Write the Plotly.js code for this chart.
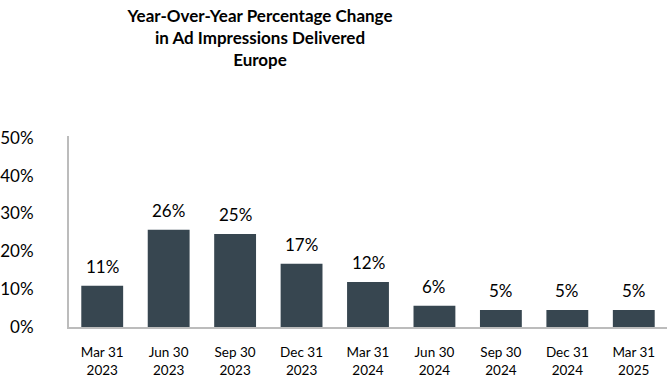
<!DOCTYPE html>
<html>
<head>
<meta charset="utf-8">
<script src="https://cdn.plot.ly/plotly-3.0.1.min.js"></script>
<style>html,body{margin:0;padding:0;background:#fff;}#chart{width:672px;height:384px;}</style>
</head>
<body>
<div id="chart"></div>
<script>
var categories = ["Mar 31<br>2023","Jun 30<br>2023","Sep 30<br>2023","Dec 31<br>2023","Mar 31<br>2024","Jun 30<br>2024","Sep 30<br>2024","Dec 31<br>2024","Mar 31<br>2025"];
var values = [10.9, 25.7, 24.6, 16.7, 11.9, 5.6, 4.5, 4.5, 4.5];
var labels = ["11%","26%","25%","17%","12%","6%","5%","5%","5%"];
var yTickVals = [0, 10, 20, 30, 40, 50];
var yTickText = ["0%","10%","20%","30%","40%","50%"];

var font = "Lato, 'Open Sans', sans-serif";

var annotations = categories.map(function(c, i){
  return {x: c, y: values[i], xref: 'x', yref: 'y', text: labels[i], showarrow: false,
          yanchor: 'middle', yshift: 19, font: {family: font, size: 17, color: '#000'}};
});

var data = [{
  type: 'bar', x: categories, y: values,
  marker: {color: '#374650'}, hoverinfo: 'none'
}];

var layout = {
  width: 672, height: 384,
  margin: {l: 69, r: 5, t: 136, b: 57},
  paper_bgcolor: '#fff', plot_bgcolor: '#fff',
  bargap: 0.37,
  showlegend: false,
  title: {text: "<b>Year-Over-Year Percentage Change<br>in Ad Impressions Delivered<br>Europe</b>",
          xref: 'container', x: 260/672, xanchor: 'center', yref: 'container', y: 1, yanchor: 'top',
          pad: {t: 22}, font: {family: font, size: 17, color: '#000'}},
  xaxis: {showline: true, linecolor: '#bcbcbc', linewidth: 2, showgrid: false, zeroline: false,
          ticks: '', ticklabelstandoff: 12, tickfont: {family: font, size: 13.5, color: '#000'}},
  yaxis: {range: [0, 50.5], showline: true, linecolor: '#bcbcbc', linewidth: 2, showgrid: false, zeroline: false,
          tickvals: yTickVals, ticktext: yTickText, ticks: '', ticklabelstandoff: 30,
          tickfont: {family: font, size: 17, color: '#000'}},
  annotations: annotations
};

Plotly.newPlot('chart', data, layout, {displayModeBar: false, staticPlot: true});
</script>
</body>
</html>
